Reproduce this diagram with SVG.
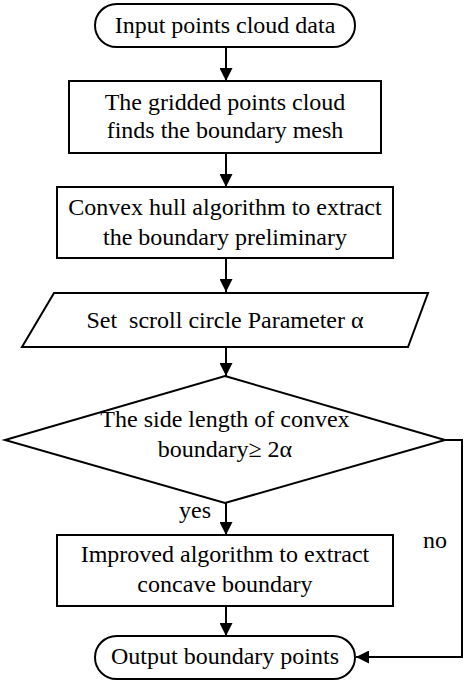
<svg xmlns="http://www.w3.org/2000/svg" width="464" height="685" viewBox="0 0 464 685">
<style>
.s{fill:#fff;stroke:#000;stroke-width:2}
.t{font-size:24px;fill:#000;text-anchor:middle}
.c{fill:none;stroke:#000;stroke-width:2}
</style>
<defs>
<marker id="ah" markerUnits="userSpaceOnUse" markerWidth="14" markerHeight="13" refX="13" refY="6.5" orient="auto">
<path d="M0,0 L13,6.5 L0,13 z" fill="#000"/>
</marker>
</defs>
<rect width="464" height="685" fill="#fff"/>
<g font-family="'Liberation Serif', 'Times New Roman', 'DejaVu Serif', serif">
<g id="connectors">
<line class="c" x1="226" y1="47" x2="226" y2="81" marker-end="url(#ah)"/>
<line class="c" x1="226" y1="153" x2="226" y2="187" marker-end="url(#ah)"/>
<line class="c" x1="226" y1="258" x2="226" y2="292" marker-end="url(#ah)"/>
<line class="c" x1="226" y1="347" x2="226" y2="376" marker-end="url(#ah)"/>
<line class="c" x1="226" y1="503" x2="226" y2="535" marker-end="url(#ah)"/>
<line class="c" x1="226" y1="606" x2="226" y2="636" marker-end="url(#ah)"/>
<polyline class="c" points="445,440 462,440 462,657 356,657" marker-end="url(#ah)"/>
<text class="t" x="195" y="518">yes</text>
<text class="t" x="435" y="548">no</text>
</g>
<g id="start">
<rect class="s" x="95" y="4" width="260" height="43" rx="21.5"/>
<text class="t" x="225" y="33">Input points cloud data</text>
</g>
<g id="grid">
<rect class="s" x="69" y="81" width="312" height="72"/>
<text class="t" x="225" y="110">The gridded points cloud</text>
<text class="t" x="225" y="138">finds the boundary mesh</text>
</g>
<g id="convex">
<rect class="s" x="57" y="187" width="336" height="71"/>
<text class="t" x="225" y="215">Convex hull algorithm to extract</text>
<text class="t" x="225" y="245">the boundary preliminary</text>
</g>
<g id="param">
<polygon class="s" points="54,293 428,293 408,347 22,347"/>
<text class="t" x="225" y="328" xml:space="preserve">Set  scroll circle Parameter α</text>
</g>
<g id="decision">
<polygon class="s" points="225,376 445,440 225,503 5,440"/>
<text class="t" x="225" y="427">The side length of convex</text>
<text class="t" x="225" y="457">boundary≥ 2α</text>
</g>
<g id="improved">
<rect class="s" x="57" y="535" width="336" height="71"/>
<text class="t" x="225" y="562">Improved algorithm to extract</text>
<text class="t" x="225" y="592">concave boundary</text>
</g>
<g id="end">
<rect class="s" x="95" y="636" width="260" height="43" rx="21.5"/>
<text class="t" x="225" y="664">Output boundary points</text>
</g>
</g>
</svg>
